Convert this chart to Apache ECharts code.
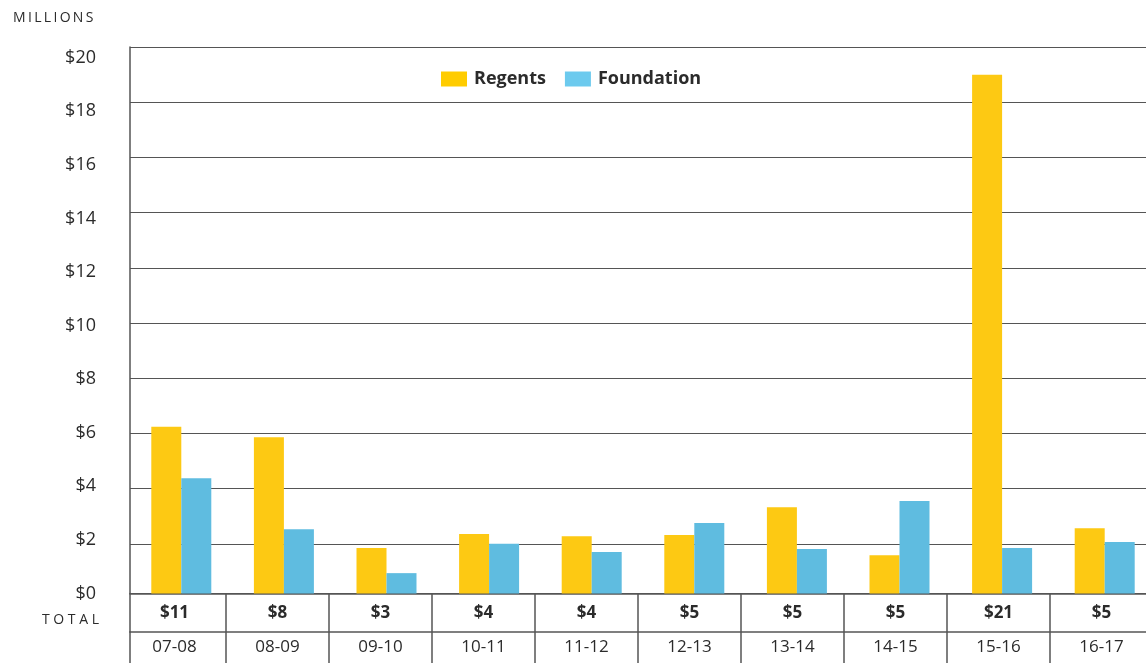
<!DOCTYPE html>
<html>
<head>
<meta charset="utf-8">
<script src="https://cdn.jsdelivr.net/npm/echarts@6/dist/echarts.min.js"></script>
<style>
html,body{margin:0;padding:0;background:#fff;}
#chart{width:1146px;height:663px;}
</style>
</head>
<body>
<div id="chart"></div>
<script>
var years = ['07-08','08-09','09-10','10-11','11-12','12-13','13-14','14-15','15-16','16-17'];
var regents = [6.22, 5.83, 1.70, 2.22, 2.14, 2.18, 3.22, 1.43, 19.36, 2.44];
var foundation = [4.30, 2.40, 0.76, 1.86, 1.55, 2.63, 1.66, 3.45, 1.70, 1.92];
var totals = ['$11','$8','$3','$4','$4','$5','$5','$5','$21','$5'];
var tickLabels = ['$0','$2','$4','$6','$8','$10','$12','$14','$16','$18','$20'];

var FONT = '"Open Sans", "Noto Sans", sans-serif';
var LINE = '#555555';
var TEXT = '#2b2b2b';

var chart = echarts.init(document.getElementById('chart'), null, {renderer: 'canvas'});

function hideFirst(i) { return i !== 0; }

chart.setOption({
  animation: false,
  backgroundColor: '#ffffff',
  textStyle: {fontFamily: FONT},
  title: {
    text: 'M\u2009I\u2009L\u2009L\u2009I\u2009O\u2009N\u2009S',
    left: 8, top: 6,
    textStyle: {fontFamily: FONT, fontSize: 14, fontWeight: 'normal', color: TEXT}
  },
  legend: {
    left: 441, top: 70, padding: 0,
    itemWidth: 26, itemHeight: 15, itemGap: 19,
    icon: 'rect',
    textStyle: {fontFamily: FONT, fontSize: 18, fontWeight: 'bold', color: TEXT, padding: [0,0,0,2]},
    data: [
      {name: 'Regents', itemStyle: {color: '#FFCC00'}},
      {name: 'Foundation', itemStyle: {color: '#6CCAEE'}}
    ]
  },
  grid: [
    {left: 130, width: 1026, top: 47, bottom: 69.5, containLabel: false, outerBoundsMode: 'none'},
    {left: 123, width: 1030, top: 593.5, height: 38.5, containLabel: false, outerBoundsMode: 'none'},
    {left: 123, width: 1030, top: 632, height: 31, containLabel: false, outerBoundsMode: 'none'},
    {left: 130, width: 1026, top: 632, height: 31, containLabel: false, outerBoundsMode: 'none'}
  ],
  xAxis: [
    {
      gridIndex: 0, type: 'category', data: years,
      axisLine: {show: true, onZero: false, lineStyle: {color: LINE, width: 1.5}},
      axisTick: {show: false}, axisLabel: {show: false}, splitLine: {show: false}
    },
    {
      gridIndex: 1, type: 'category', data: totals, position: 'bottom',
      axisLine: {show: false, onZero: false},
      axisTick: {show: false},
      axisLabel: {show: true, inside: true, margin: 19, verticalAlign: 'middle',
        fontFamily: FONT, fontSize: 17, fontWeight: 'bold', color: TEXT},
      splitLine: {show: true, interval: hideFirst, lineStyle: {color: LINE, width: 1.5}}
    },
    {
      gridIndex: 2, type: 'category', data: years, position: 'bottom',
      axisLine: {show: false, onZero: false},
      axisTick: {show: false},
      axisLabel: {show: true, inside: true, margin: 16, verticalAlign: 'middle',
        fontFamily: FONT, fontSize: 17, color: TEXT},
      splitLine: {show: true, interval: hideFirst, lineStyle: {color: LINE, width: 1.5}}
    },
    {
      gridIndex: 3, type: 'category', data: years, position: 'top',
      axisLine: {show: true, onZero: false, lineStyle: {color: LINE, width: 1.5}},
      axisTick: {show: false}, axisLabel: {show: false}, splitLine: {show: false}
    }
  ],
  yAxis: [
    {
      gridIndex: 0, type: 'value', min: 0, max: 20.4, interval: 2,
      axisLine: {show: true, lineStyle: {color: LINE, width: 1.5}},
      axisTick: {show: false},
      axisLabel: {margin: 34, fontFamily: FONT, fontSize: 18, color: TEXT,
        showMaxLabel: false,
        formatter: function (v) {
          var i = Math.round(v / 2);
          return (Math.abs(v - i * 2) < 1e-6 && tickLabels[i]) ? tickLabels[i] : '';
        }},
      splitLine: {show: false}
    },
    {
      gridIndex: 0, type: 'value', position: 'left', inverse: true,
      min: 0, max: 19.8, interval: 2,
      axisLine: {show: false}, axisTick: {show: false}, axisLabel: {show: false},
      splitLine: {show: true, lineStyle: {color: LINE, width: 1.2}}
    },
    {
      gridIndex: 1, type: 'category', data: ['T O T A L'], offset: -7,
      axisLine: {show: true, lineStyle: {color: LINE, width: 1.5}},
      axisTick: {show: false},
      axisLabel: {margin: 31, fontFamily: FONT, fontSize: 14, color: TEXT,
        verticalAlign: 'top'},
      splitLine: {show: false}
    },
    {
      gridIndex: 2, type: 'category', data: [''], offset: -7,
      axisLine: {show: true, lineStyle: {color: LINE, width: 1.5}},
      axisTick: {show: false},
      axisLabel: {show: false},
      splitLine: {show: false}
    },
    {
      gridIndex: 3, type: 'value', min: 0, max: 1, show: false
    }
  ],
  series: [
    {
      name: 'Regents', type: 'bar', xAxisIndex: 0, yAxisIndex: 0,
      data: regents, barWidth: 30, barGap: '0%',
      itemStyle: {color: '#FDC913'}
    },
    {
      name: 'Foundation', type: 'bar', xAxisIndex: 0, yAxisIndex: 0,
      data: foundation, barWidth: 30, barGap: '0%',
      itemStyle: {color: '#5FBCE0'}
    }
  ]
});
</script>
</body>
</html>
